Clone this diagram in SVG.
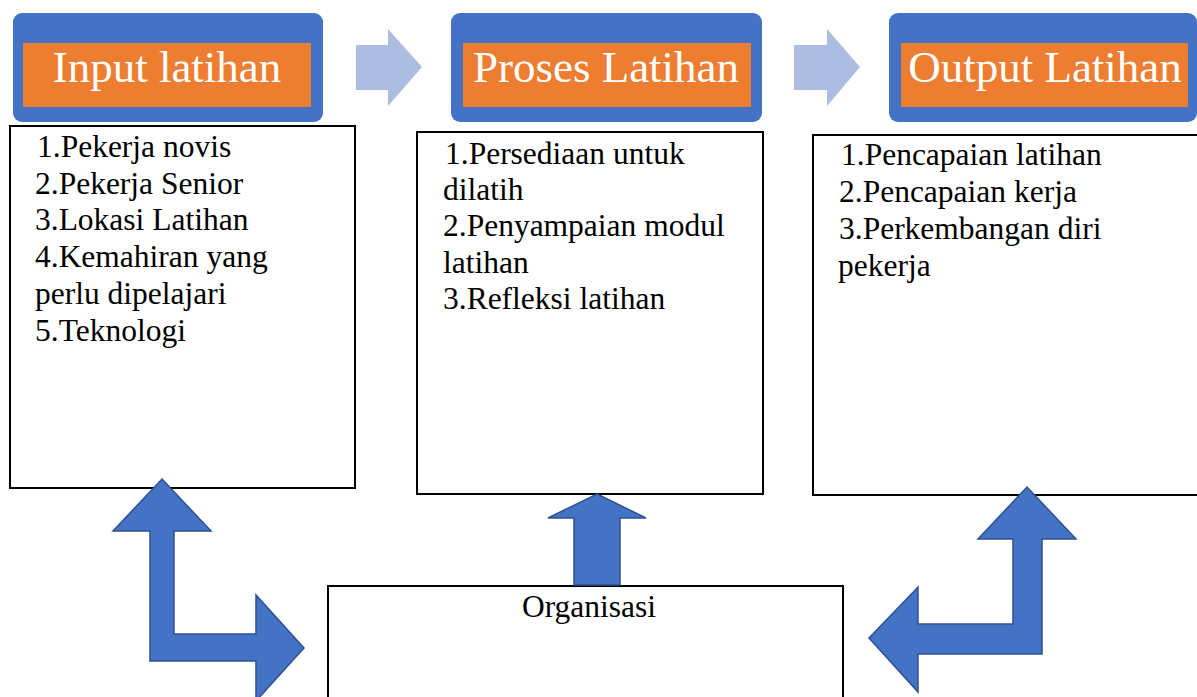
<svg xmlns="http://www.w3.org/2000/svg" width="1197" height="697" viewBox="0 0 1197 697">
<style>
.hdr{fill:#4472C4}
.org{fill:#ED7D31}
.ht{font-size:45px;fill:#FFFFFF;text-anchor:middle}
.box{fill:#FFFFFF;stroke:#000000;stroke-width:2}
.bt{font-size:31.5px;fill:#000000}
.la{fill:#ADBCE1}
.ba{fill:#4472C4;stroke:#2F528F;stroke-width:1.5;stroke-linejoin:miter}
</style>
<rect width="1197" height="697" fill="#FFFFFF"/>
<g font-family="Liberation Serif, Times New Roman, Times, serif">
<g id="input-header">
<rect class="hdr" x="13" y="13" width="310" height="109" rx="9"/>
<rect class="org" x="23" y="43" width="288" height="64"/>
<text class="ht" x="167" y="82">Input latihan</text>
</g>
<g id="proses-header">
<rect class="hdr" x="451" y="13" width="311" height="109" rx="9"/>
<rect class="org" x="463" y="43" width="288" height="64"/>
<text class="ht" x="606" y="82">Proses Latihan</text>
</g>
<g id="output-header">
<rect class="hdr" x="889" y="13" width="308" height="109" rx="9"/>
<rect class="org" x="901" y="43" width="287" height="64"/>
<text class="ht" x="1045" y="82">Output Latihan</text>
</g>
<g id="input-list">
<rect class="box" x="10" y="126" width="345" height="362"/>
<text class="bt"><tspan x="37" y="157">1.Pekerja novis</tspan><tspan x="35" y="194">2.Pekerja Senior</tspan><tspan x="35" y="230">3.Lokasi Latihan</tspan><tspan x="35" y="267">4.Kemahiran yang</tspan><tspan x="35" y="304">perlu dipelajari</tspan><tspan x="35" y="341">5.Teknologi</tspan></text>
</g>
<g id="proses-list">
<rect class="box" x="417" y="132" width="346" height="362"/>
<text class="bt"><tspan x="445" y="164">1.Persediaan untuk</tspan><tspan x="443" y="200">dilatih</tspan><tspan x="443" y="236">2.Penyampaian modul</tspan><tspan x="443" y="273">latihan</tspan><tspan x="443" y="309">3.Refleksi latihan</tspan></text>
</g>
<g id="output-list">
<rect class="box" x="813" y="135" width="390" height="360"/>
<text class="bt"><tspan x="841" y="165">1.Pencapaian latihan</tspan><tspan x="839" y="202">2.Pencapaian kerja</tspan><tspan x="839" y="239">3.Perkembangan diri</tspan><tspan x="838" y="276">pekerja</tspan></text>
</g>
<g id="organisasi">
<rect class="box" x="328" y="586" width="515" height="120"/>
<text class="bt" x="589" y="617" text-anchor="middle">Organisasi</text>
</g>
</g>
<g id="connectors">
<polygon class="la" points="356,45 388,45 388,29 422,67 388,106 388,90 356,90"/>
<polygon class="la" points="794,45 827,45 827,29 860,67 827,106 827,90 794,90"/>
<polygon class="ba" points="162,479 211,531 174,531 174,634 256,634 256,595 304,648 256,701 256,661 150,661 150,531 113,531"/>
<polygon class="ba" points="597,494 646,518 620,518 620,585 574,585 574,518 548,518"/>
<polygon class="ba" points="1027,487 1076,539 1042,539 1042,654 918,654 918,692 869,638 918,587 918,624 1013,624 1013,539 978,539"/>
</g>
</svg>
